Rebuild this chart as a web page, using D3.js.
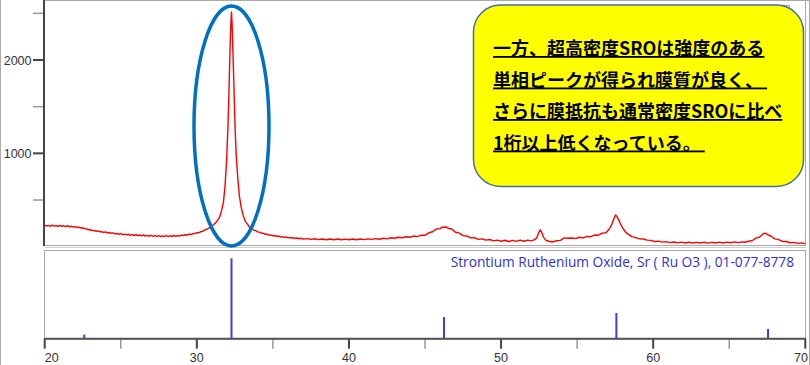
<!DOCTYPE html>
<html>
<head>
<meta charset="utf-8">
<script src="https://cdn.jsdelivr.net/npm/d3@7"></script>
<style>
  html, body { margin: 0; padding: 0; background: #fff; }
  svg { display: block; }
</style>
</head>
<body>
<svg id="chart" width="810" height="365"></svg>
<script>
// ---- data ----
const xTicksMajor = [20, 30, 40, 50, 60, 70];
const xTicksMinor = [25, 35, 45, 55, 65];
const yTicksMajor = [1000, 2000];
const yTicksMinor = [500, 1500, 2500];

// measured XRD pattern: [2theta, counts]
const xrdScan = [
  [20.000,232],[20.125,222],[20.250,228],[20.375,219],[20.500,231],[20.625,221],[20.750,226],[20.875,217],
  [21.000,229],[21.125,218],[21.250,224],[21.375,214],[21.500,226],[21.625,213],[21.750,219],[21.875,209],
  [22.000,216],[22.125,206],[22.250,209],[22.375,199],[22.500,203],[22.625,192],[22.750,191],[22.875,181],
  [23.000,184],[23.125,172],[23.250,175],[23.375,165],[23.500,169],[23.625,159],[23.750,162],[23.875,152],
  [24.000,158],[24.125,147],[24.250,152],[24.375,143],[24.500,148],[24.625,137],[24.750,142],[24.875,133],
  [25.000,140],[25.125,129],[25.250,135],[25.375,126],[25.500,133],[25.625,122],[25.750,129],[25.875,120],
  [26.000,130],[26.125,118],[26.250,125],[26.375,115],[26.500,126],[26.625,114],[26.750,121],[26.875,112],
  [27.000,123],[27.125,110],[27.250,118],[27.375,109],[27.500,120],[27.625,108],[27.750,116],[27.875,109],
  [28.000,120],[28.125,108],[28.250,117],[28.375,110],[28.500,122],[28.625,111],[28.750,119],[28.875,115],
  [29.000,127],[29.125,118],[29.250,128],[29.375,124],[29.500,136],[29.625,130],[29.750,140],[29.875,140],
  [30.000,151],[30.125,150],[30.250,160],[30.375,164],[30.500,178],[30.625,184],[30.750,197],[30.875,207],
  [31.000,225],[31.100,234],[31.200,251],[31.300,268],[31.400,292],[31.480,312],[31.550,338],
  [31.650,402],[31.750,478],[31.850,640],[31.950,900],[32.050,1300],[32.120,1700],[32.180,2100],[32.240,2400],
  [32.280,2515],[32.320,2380],[32.380,2050],[32.450,1650],[32.520,1250],[32.600,950],[32.700,720],[32.800,540],
  [32.920,420],[33.050,332],[33.200,268],[33.350,237],[33.500,198],[33.625,192],[33.750,176],[33.875,172],
  [34.000,158],[34.125,156],[34.250,146],[34.375,144],[34.500,133],[34.625,134],[34.750,124],[34.875,127],
  [35.000,116],[35.125,120],[35.250,111],[35.375,114],[35.500,103],[35.625,108],[35.750,100],[35.875,104],
  [36.000,94],[36.125,99],[36.250,91],[36.375,96],[36.500,86],[36.625,93],[36.750,85],[36.875,90],
  [37.000,81],[37.250,87],[37.500,78],[37.750,85],[38.000,76],[38.250,83],[38.500,75],[38.750,82],
  [39.000,74],[39.250,82],[39.500,75],[39.750,81],[40.000,74],[40.250,83],[40.500,75],[40.750,83],
  [41.000,76],[41.250,84],[41.500,78],[41.750,86],[42.000,80],[42.250,90],[42.500,84],[42.750,96],
  [43.000,90],[43.250,101],[43.500,96],[43.750,107],[44.000,101],[44.250,114],[44.500,108],[44.750,124],
  [45.000,122],[45.250,149],[45.500,160],[45.750,190],[46.000,194],[46.125,210],[46.250,208],[46.375,214],
  [46.500,198],[46.750,190],[47.000,155],[47.250,145],[47.500,119],[47.750,115],[48.000,95],[48.250,97],
  [48.500,79],[48.750,84],[49.000,70],[49.250,77],[49.500,63],[49.750,71],[50.000,58],[50.250,69],
  [50.500,56],[50.750,68],[51.000,57],[51.250,70],[51.500,58],[51.750,71],[52.000,63],[52.200,76],
  [52.350,95],[52.500,160],[52.580,180],[52.680,150],[52.800,100],[52.950,68],[53.150,58],[53.400,51],
  [53.650,64],[53.900,68],[54.150,94],[54.400,90],[54.650,93],[54.900,87],[55.150,101],[55.400,94],
  [55.650,110],[55.900,107],[56.150,125],[56.400,123],[56.650,145],[56.900,150],[57.100,187],[57.250,228],
  [57.400,292],[57.520,340],[57.620,323],[57.750,282],[57.900,228],[58.050,187],[58.200,153],[58.400,130],
  [58.600,108],[58.850,97],[59.100,84],[59.350,82],[59.600,70],[59.850,68],[60.100,56],[60.350,60],
  [60.600,49],[60.850,54],[61.100,44],[61.350,50],[61.600,41],[61.850,49],[62.100,40],[62.350,48],
  [62.600,39],[62.850,47],[63.100,39],[63.350,48],[63.600,38],[63.850,47],[64.100,40],[64.350,49],
  [64.600,40],[64.850,49],[65.100,42],[65.350,51],[65.600,44],[65.850,52],[66.050,48],[66.250,58],
  [66.500,64],[66.750,92],[67.000,104],[67.200,134],[67.350,145],[67.500,131],[67.750,112],[68.000,84],
  [68.250,76],[68.500,56],[68.750,56],[69.000,42],[69.250,46],[69.500,36],[69.750,41],[70.000,33]
];

// reference pattern sticks: Strontium Ruthenium Oxide
const refName = "Strontium Ruthenium Oxide, Sr ( Ru O3 ), 01-077-8778";
const refAngles = [22.6, 32.28, 46.25, 57.58, 67.55];
const refIntensity = [5, 100, 27, 32, 12];

const noteLines = [
  "一方、超高密度SROは強度のある",
  "単相ピークが得られ膜質が良く、 ",
  "さらに膜抵抗も通常密度SROに比べ",
  "1桁以上低くなっている。 "
];

// ---- drawing ----
const svg = d3.select("#chart");
const L = 44.7, R = 805.3;
const topY0 = 246.7, topY1 = 0;
const botTop = 250, botY0 = 338.7, botY100 = 258.3;

const x = d3.scaleLinear().domain([20, 70]).range([L, R]);
const y = d3.scaleLinear().domain([0, 2643]).range([topY0, topY1]);
const yb = d3.scaleLinear().domain([0, 100]).range([botY0, botY100]);

const frame = "#a8a8a8";
// outer frame
svg.append("line").attr("x1", 0.5).attr("x2", 0.5).attr("y1", 0).attr("y2", 365).attr("stroke", frame);
svg.append("line").attr("x1", 809.5).attr("x2", 809.5).attr("y1", 0).attr("y2", 365).attr("stroke", frame);
// top panel frame
svg.append("line").attr("x1", L).attr("x2", 810).attr("y1", 0.5).attr("y2", 0.5).attr("stroke", frame);
svg.append("line").attr("x1", 805.5).attr("x2", 805.5).attr("y1", 0).attr("y2", 246).attr("stroke", frame);
svg.append("line").attr("x1", L).attr("x2", 806).attr("y1", 245.5).attr("y2", 245.5).attr("stroke", frame);
svg.append("line").attr("x1", L).attr("x2", 806).attr("y1", 247.5).attr("y2", 247.5).attr("stroke", "#d0d0d0");
// bottom panel frame
svg.append("rect").attr("x", 44.5).attr("y", botTop + 0.5).attr("width", 761).attr("height", botY0 - botTop)
  .attr("fill", "none").attr("stroke", frame);

// hidden small box behind note
svg.append("rect").attr("x", 781.5).attr("y", 5.5).attr("width", 8).attr("height", 20)
  .attr("fill", "#fff").attr("stroke", frame);

// y axis (top panel)
const yAxisG = svg.append("g");
yAxisG.selectAll("line.minor").data(yTicksMinor).join("line")
  .attr("x1", 33).attr("x2", 44).attr("y1", d => y(d)).attr("y2", d => y(d))
  .attr("stroke", "#9a9a9a").attr("stroke-width", 1.5);
yAxisG.selectAll("line.major").data(yTicksMajor).join("line")
  .attr("x1", 33).attr("x2", 44).attr("y1", d => y(d)).attr("y2", d => y(d))
  .attr("stroke", "#444").attr("stroke-width", 2);
yAxisG.selectAll("text").data(yTicksMajor).join("text")
  .attr("x", 31.5).attr("y", d => y(d)).attr("dy", "0.36em")
  .attr("text-anchor", "end")
  .attr("font-family", "Liberation Sans, Arial, sans-serif").attr("font-size", 12.5)
  .attr("fill", "#333").text(d => d);
svg.append("line").attr("x1", 44).attr("x2", 44).attr("y1", 0).attr("y2", 246)
  .attr("stroke", "#444").attr("stroke-width", 2);

// red scan line
const line = d3.line().x(d => x(d[0])).y(d => y(d[1]));
svg.append("path").datum(xrdScan).attr("d", line)
  .attr("fill", "none").attr("stroke", "#ff0000").attr("stroke-width", 1.4).attr("stroke-linejoin", "round");

// ellipse highlight
svg.append("ellipse").attr("cx", x(32.28)).attr("cy", 126).attr("rx", 37.5).attr("ry", 120)
  .attr("fill", "none").attr("stroke", "#0070C0").attr("stroke-width", 3.5);

// bottom panel sticks
svg.append("g").selectAll("line").data(refAngles).join("line")
  .attr("x1", d => x(d)).attr("x2", d => x(d))
  .attr("y1", botY0).attr("y2", (d, i) => yb(refIntensity[i]))
  .attr("stroke", "#3b3bf5").attr("stroke-width", 2);
svg.append("text").attr("x", 794).attr("y", 262).attr("dy", "0.35em")
  .attr("text-anchor", "end").attr("font-family", "Open Sans, Noto Sans, sans-serif")
  .attr("font-size", 13.7).attr("fill", "#2e2ee0").text(refName);

// x axis
const xg = svg.append("g");
xg.selectAll("line.minor").data(xTicksMinor).join("line")
  .attr("x1", d => x(d)).attr("x2", d => x(d)).attr("y1", botY0).attr("y2", botY0 + 10)
  .attr("stroke", "#9a9a9a").attr("stroke-width", 1.5);
xg.selectAll("line.major").data(xTicksMajor).join("line")
  .attr("x1", d => x(d)).attr("x2", d => x(d)).attr("y1", botY0).attr("y2", botY0 + 10)
  .attr("stroke", "#444").attr("stroke-width", 2);
svg.append("line").attr("x1", 44).attr("x2", 806).attr("y1", botY0).attr("y2", botY0)
  .attr("stroke", "#555").attr("stroke-width", 2);
xg.selectAll("text").data(xTicksMajor).join("text")
  .attr("x", (d, i) => i === 0 ? x(d) : (i === xTicksMajor.length - 1 ? 808 : x(d)))
  .attr("y", 361.5)
  .attr("text-anchor", (d, i) => i === 0 ? "start" : (i === xTicksMajor.length - 1 ? "end" : "middle"))
  .attr("font-family", "Liberation Sans, Arial, sans-serif").attr("font-size", 12.5)
  .attr("fill", "#333").text(d => d);

// note box
svg.append("rect").attr("x", 473.5).attr("y", 5).attr("width", 330).attr("height", 181.5)
  .attr("rx", 27).attr("ry", 27)
  .attr("fill", "#ffff00").attr("stroke", "#41719C").attr("stroke-width", 1.5);
const baselines = [55, 86.5, 118, 149.5];
svg.append("g").selectAll("text").data(noteLines).join("text")
  .attr("x", 493).attr("y", (d, i) => baselines[i])
  .attr("font-family", "Noto Sans CJK JP, sans-serif").attr("font-weight", "bold")
  .attr("font-size", 18).attr("fill", "#000")
  .style("white-space", "pre")
  .attr("text-decoration", "underline")
  .text(d => d);
</script>
</body>
</html>
